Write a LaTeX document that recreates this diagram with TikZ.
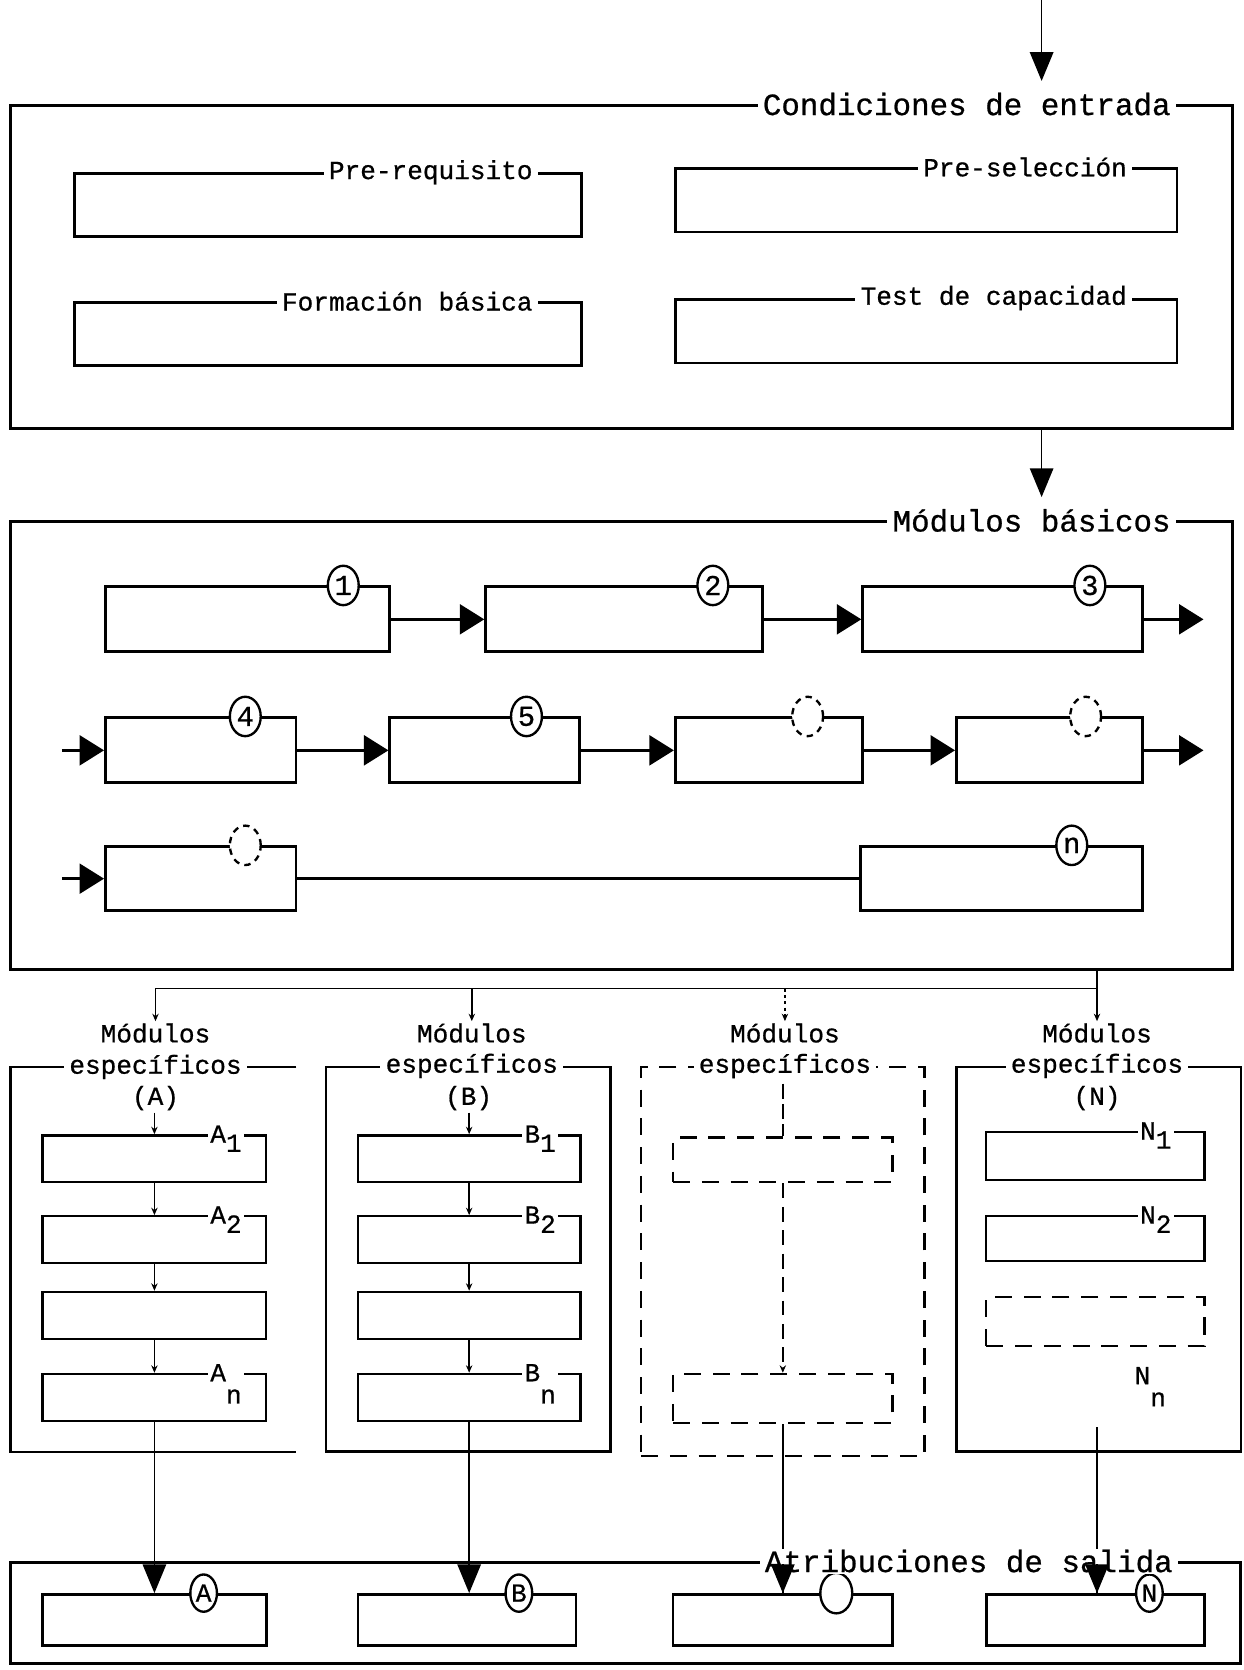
\documentclass[tikz,border=0pt]{standalone}
\usepackage{fontspec}
\setmainfont{Liberation Mono}[FakeBold=0.7]
\usetikzlibrary{arrows.meta,shapes.geometric,positioning}
\newcommand{\bigfont}{\fontsize{29}{34}\selectfont}
\newcommand{\midfont}{\fontsize{24.5}{29}\selectfont}
\newcommand{\tagfont}{\fontsize{27}{30}\selectfont}
\newcommand{\lowidx}[2]{#1\raisebox{-0.35em}{#2}}
\newcommand{\dropidx}[2]{#1\raisebox{-0.85em}{#2}}

\begin{document}
\begin{tikzpicture}[x=1pt, y=-1pt,
  frame/.style={draw, line width=2.6pt, inner sep=0pt},
  module/.style={draw, line width=2.6pt, inner sep=0pt, minimum height=61pt},
  submod/.style={draw, line width=2.2pt, inner sep=0pt, minimum height=44pt},
  dashbox/.style={draw, line width=2.2pt, dash pattern=on 16pt off 11pt, inner sep=0pt},
  title/.style={fill=white, inner sep=5pt, font=\bigfont},
  caption/.style={fill=white, inner sep=5pt, font=\midfont},
  plain/.style={inner sep=2pt, font=\midfont},
  sublbl/.style={fill=white, inner sep=2pt, font=\midfont, anchor=base east},
  tag/.style={draw, ellipse, fill=white, line width=2.2pt, minimum width=29pt, minimum height=37pt, inner sep=0pt, font=\tagfont},
  outtag/.style={tag, minimum width=25pt, minimum height=35pt, font=\midfont},
  flow/.style={-{Triangle[length=23pt,width=28pt]}, line width=2.8pt},
  feed/.style={-{Triangle[length=27pt,width=22pt]}, line width=1.5pt},
  link/.style={-{Stealth[length=7pt,width=6pt]}, line width=1.4pt},
]
  \useasboundingbox (0,0) rectangle (1168,1568);

  % entry conditions
  \coordinate (src) at (978,0);
  \coordinate (entry) at (978,76);
  \draw[feed] (src) -- (entry);
  \node[frame, minimum width=1147pt, minimum height=303pt] (cond) at (583.5,250.5) {};
  \node[title, left=54pt of cond.north east] (condlbl) {Condiciones de entrada};
  \node[frame, line width=2.4pt, minimum width=476pt, minimum height=59pt] (prereq) at (308,192.5) {};
  \node[caption, left=42pt of prereq.north east] (prereqlbl) {Pre-requisito};
  \node[frame, line width=2.4pt, minimum width=471pt, minimum height=60pt] (presel) at (869.5,188) {};
  \node[caption, left=43pt of presel.north east] (presellbl) {Pre-selección};
  \node[frame, line width=2.4pt, minimum width=476pt, minimum height=59pt] (basica) at (308,313.5) {};
  \node[caption, left=42pt of basica.north east] (basicalbl) {Formación básica};
  \node[frame, line width=2.4pt, minimum width=471pt, minimum height=60pt] (test) at (869.5,311) {};
  \node[caption, left=43pt of test.north east] (testlbl) {Test de capacidad};

  % basic modules
  \node[frame, minimum width=1147pt, minimum height=420pt] (basic) at (583.5,700) {};
  \node[title, left=54pt of basic.north east] (basiclbl) {Módulos básicos};
  \draw[feed] (cond.south -| src) -- ([yshift=22pt]basic.north -| src);

  \node[module, minimum width=267pt] (m1) at (232.5,581.5) {};
  \node[module, minimum width=260pt] (m2) at (586,581.5) {};
  \node[module, minimum width=263pt] (m3) at (941.5,581.5) {};
  \node[module, minimum width=179pt] (m4) at (188.5,704.5) {};
  \node[module, minimum width=178pt] (m5) at (455,704.5) {};
  \node[module, minimum width=176pt] (m6) at (722,704.5) {};
  \node[module, minimum width=175pt] (m7) at (985.5,704.5) {};
  \node[module, minimum width=179pt, minimum height=60pt] (m8) at (188.5,825) {};
  \node[module, minimum width=265pt, minimum height=60pt] (mn) at (940.5,825) {};

  \node[tag] (t1) at ([xshift=-45pt]m1.north east) {1};
  \node[tag] (t2) at ([xshift=-48pt]m2.north east) {2};
  \node[tag] (t3) at ([xshift=-51pt]m3.north east) {3};
  \node[tag] (t4) at ([xshift=-49pt]m4.north east) {4};
  \node[tag] (t5) at ([xshift=-51pt]m5.north east) {5};
  \node[tag, dash pattern=on 6pt off 5pt] (t6) at ([xshift=-53pt]m6.north east) {};
  \node[tag, dash pattern=on 6pt off 5pt] (t7) at ([xshift=-55pt]m7.north east) {};
  \node[tag, dash pattern=on 6pt off 5pt] (t8) at ([xshift=-49pt]m8.north east) {};
  \node[tag] (tn) at ([xshift=-68pt]mn.north east) {n};

  \coordinate (r1out) at (1130,581.5);
  \coordinate (r2in) at (58,704.5);
  \coordinate (r2out) at (1130,704.5);
  \coordinate (r3in) at (58,825);
  \draw[flow] (m1.east) -- (m2.west);
  \draw[flow] (m2.east) -- (m3.west);
  \draw[flow] (m3.east) -- (r1out);
  \draw[flow] (r2in) -- (m4.west);
  \draw[flow] (m4.east) -- (m5.west);
  \draw[flow] (m5.east) -- (m6.west);
  \draw[flow] (m6.east) -- (m7.west);
  \draw[flow] (m7.east) -- (r2out);
  \draw[flow] (r3in) -- (m8.west);
  \draw[line width=2.8pt] (m8.east) -- (mn.west);

  % specific modules
  \node[plain] (modA) at (146,970) {Módulos};
  \node[plain] (modB) at (443,970) {Módulos};
  \node[plain] (modD) at (737,970) {Módulos};
  \node[plain] (modN) at (1030,970) {Módulos};
  \coordinate (split) at (1030,928);
  \draw[line width=1.5pt] (basic.south -| split) -- (split) -- (split -| modA.north);
  \draw[link] (split -| modA) -- (modA.north);
  \draw[link] (split -| modB) -- (modB.north);
  \draw[link, dashed] (split -| modD) -- (modD.north);
  \draw[link] (split) -- (modN.north);

  \node[inner sep=0pt, minimum width=268pt, minimum height=361pt] (specA) at (144,1182.5) {};
  \draw[line width=2.4pt] (specA.north east) -- (specA.north west) -- (specA.south west) -- (specA.south east);
  \node[frame, line width=2.4pt, minimum width=267pt, minimum height=361pt] (specB) at (439.5,1182.5) {};
  \node[dashbox, minimum width=266pt, minimum height=365pt] (specD) at (735,1184.5) {};
  \node[frame, line width=2.4pt, minimum width=267pt, minimum height=361pt] (specN) at (1031.5,1182.5) {};

  \node[caption] (espA) at (specA.north -| modA) {específicos};
  \node[caption] (espB) at (specB.north -| modB) {específicos};
  \node[caption] (espD) at (specD.north -| modD) {específicos};
  \node[caption] (espN) at (specN.north -| modN) {específicos};
  \node[plain] (grpA) at (146,1031) {(A)};
  \node[plain] (grpB) at (440,1031) {(B)};
  \node[plain] (grpN) at (1030,1031) {(N)};

  % column A
  \node[submod, minimum width=210pt] (a1) at (145,1088) {};
  \node[submod, minimum width=210pt] (a2) at (145,1164) {};
  \node[submod, minimum width=210pt] (a3) at (145,1235) {};
  \node[submod, minimum width=210pt] (a4) at (145,1312) {};
  \node[sublbl, xshift=-22pt, yshift=-8pt] (a1lbl) at (a1.north east) {\lowidx{A}{1}};
  \node[sublbl, xshift=-22pt, yshift=-8pt] (a2lbl) at (a2.north east) {\lowidx{A}{2}};
  \node[sublbl, xshift=-22pt, yshift=-8pt] (a4lbl) at (a4.north east) {\dropidx{A}{n}};
  \draw[link] (a1.north |- grpA.south) -- (a1.north);
  \draw[link] (a1) -- (a2);
  \draw[link] (a2) -- (a3);
  \draw[link] (a3) -- (a4);

  % column B
  \node[submod, minimum width=209pt] (b1) at (440.5,1088) {};
  \node[submod, minimum width=209pt] (b2) at (440.5,1164) {};
  \node[submod, minimum width=209pt] (b3) at (440.5,1235) {};
  \node[submod, minimum width=209pt] (b4) at (440.5,1312) {};
  \node[sublbl, xshift=-22pt, yshift=-8pt] (b1lbl) at (b1.north east) {\lowidx{B}{1}};
  \node[sublbl, xshift=-22pt, yshift=-8pt] (b2lbl) at (b2.north east) {\lowidx{B}{2}};
  \node[sublbl, xshift=-22pt, yshift=-8pt] (b4lbl) at (b4.north east) {\dropidx{B}{n}};
  \draw[link] (b1.north |- grpB.south) -- (b1.north);
  \draw[link] (b1) -- (b2);
  \draw[link] (b2) -- (b3);
  \draw[link] (b3) -- (b4);

  % open column
  \node[dashbox, minimum width=206pt, minimum height=42pt] (d1) at (735,1089) {};
  \node[dashbox, minimum width=206pt, minimum height=46pt] (d2) at (735,1313) {};
  \draw[line width=1.4pt, dash pattern=on 14pt off 5pt] (espD.south -| d1.north) -- (d1.north);
  \draw[link, dash pattern=on 14pt off 8pt] (d1) -- (d2);

  % column N
  \node[submod, minimum width=205pt, minimum height=45pt] (n1) at (1028.5,1085.5) {};
  \node[submod, minimum width=205pt, minimum height=42pt] (n2) at (1028.5,1163) {};
  \node[dashbox, minimum width=205pt, minimum height=46pt] (n3) at (1028.5,1241) {};
  \node[sublbl, xshift=-30pt, yshift=-8pt] (n1lbl) at (n1.north east) {\lowidx{N}{1}};
  \node[sublbl, xshift=-30pt, yshift=-8pt] (n2lbl) at (n2.north east) {\lowidx{N}{2}};
  \node[plain] (nnlbl) at (1080,1302) {\dropidx{N}{n}};
  \coordinate (nout) at (1030,1340);

  % output
  \node[frame, minimum width=1155pt, minimum height=95pt] (out) at (587.5,1514.5) {};
  \node[frame, line width=2.4pt, minimum width=210pt, minimum height=48pt] (oA) at (145,1521) {};
  \node[frame, line width=2.4pt, minimum width=205pt, minimum height=48pt] (oB) at (438.5,1521) {};
  \node[frame, line width=2.4pt, minimum width=206pt, minimum height=48pt] (oC) at (735,1521) {};
  \node[frame, line width=2.4pt, minimum width=205pt, minimum height=48pt] (oN) at (1028.5,1521) {};
  \node[outtag] (tA) at ([xshift=-60pt]oA.north east) {A};
  \node[outtag] (tB) at ([xshift=-55pt]oB.north east) {B};
  \node[outtag, minimum width=30pt, minimum height=38pt] (tC) at ([xshift=-54pt]oC.north east) {};
  \node[outtag] (tN) at ([xshift=-53pt]oN.north east) {N};

  \draw[feed] (a4) -- (oA);
  \draw[feed] (b4.south) -- (b4.south |- oB.north);
  \draw[line width=1.5pt] (d2) -- (oC);
  \draw[line width=1.5pt] (nout) -- (nout |- oN.north);
  \node[title, inner ysep=1pt, left=60pt of out.north east] (outlbl) {Atribuciones de salida};
  \draw[feed] ([yshift=27pt]oC.north) -- (oC.north);
  \draw[feed] ([yshift=27pt]oN.north -| nout) -- (oN.north -| nout);
\end{tikzpicture}
\end{document}
